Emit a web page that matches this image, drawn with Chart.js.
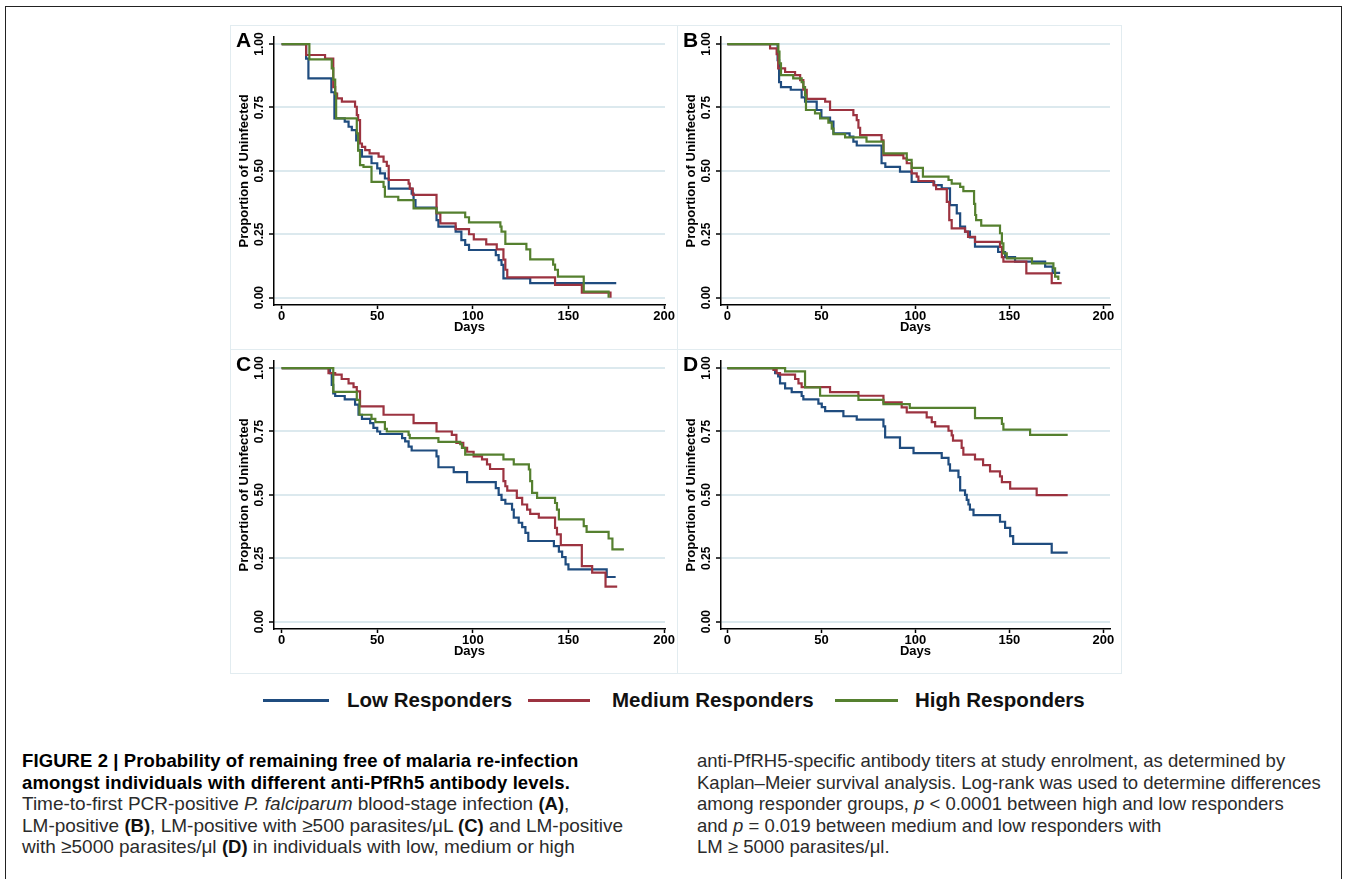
<!DOCTYPE html>
<html>
<head>
<meta charset="utf-8">
<script src="https://cdn.jsdelivr.net/npm/chart.js@4.4.1/dist/chart.umd.min.js"></script>
<style>
  html, body { margin: 0; padding: 0; background: #fff; }
  body { width: 1348px; height: 879px; position: relative; overflow: hidden; font-family: "Liberation Sans", Arial, sans-serif; }
  .frame { position: absolute; left: 5px; top: 6px; width: 1337px; height: 880px; border: 1.5px solid #222; box-sizing: border-box; }
  .panel { position: absolute; box-sizing: border-box; border: 1px solid #e2ecf0; }
  .panel canvas { position: absolute; left: -1px; top: -1px; }
  .legend-line { position: absolute; height: 3px; top: 699px; }
  .legend-text { position: absolute; top: 687px; line-height: 26px; font-size: 20.5px; font-weight: bold; color: #111; white-space: nowrap; }
  .caption { position: absolute; top: 750px; line-height: 21.5px; white-space: nowrap; color: #2b2b2b; font-size: 19px; }
  .caption.right { font-size: 18.5px; }
  .caption .t { font-weight: bold; font-size: 18.5px; color: #000; letter-spacing: 0.1px; }
  .caption b { font-size: 18.5px; color: #111; }
</style>
</head>
<body>
<div class="frame"></div>

<div class="panel" style="left:230px; top:25px; width:448px; height:325px;"><canvas id="chartA" width="448" height="325"></canvas></div>
<div class="panel" style="left:677px; top:25px; width:445px; height:325px;"><canvas id="chartB" width="445" height="325"></canvas></div>
<div class="panel" style="left:230px; top:349px; width:448px; height:325px;"><canvas id="chartC" width="448" height="325"></canvas></div>
<div class="panel" style="left:677px; top:349px; width:445px; height:325px;"><canvas id="chartD" width="445" height="325"></canvas></div>

<div class="legend-line" style="left:263px; width:66px; background:#1f4c7f;"></div>
<div class="legend-text" style="left:347px;">Low Responders</div>
<div class="legend-line" style="left:528px; width:62px; background:#9c3340;"></div>
<div class="legend-text" style="left:612px;">Medium Responders</div>
<div class="legend-line" style="left:835px; width:63px; background:#55802f;"></div>
<div class="legend-text" style="left:915px;">High Responders</div>

<div class="caption" style="left:22px;">
  <span class="t">FIGURE 2 | Probability of remaining free of malaria re-infection</span><br>
  <span class="t">amongst individuals with different anti-PfRh5 antibody levels.</span><br>
  <span>Time-to-first PCR-positive <i>P. falciparum</i> blood-stage infection <b>(A)</b>,</span><br>
  <span>LM-positive <b>(B)</b>, LM-positive with ≥500 parasites/μL <b>(C)</b> and LM-positive</span><br>
  <span>with ≥5000 parasites/μl <b>(D)</b> in individuals with low, medium or high</span>
</div>
<div class="caption right" style="left:697px;">
  <span>anti-PfRH5-specific antibody titers at study enrolment, as determined by</span><br>
  <span>Kaplan–Meier survival analysis. Log-rank was used to determine differences</span><br>
  <span>among responder groups, <i>p</i> &lt; 0.0001 between high and low responders</span><br>
  <span>and <i>p</i> = 0.019 between medium and low responders with</span><br>
  <span>LM ≥ 5000 parasites/μl.</span>
</div>

<script>
// Kaplan-Meier steps: [day, proportion uninfected]
const aLow = [[0,1],[12.8,0.943],[14,0.865],[26,0.81],[27.6,0.707],[33,0.694],[35,0.674],[36.7,0.661],[39,0.62],[40,0.582],[42,0.556],[47,0.53],[50,0.51],[51.5,0.49],[54,0.47],[56,0.43],[68,0.41],[69,0.385],[70,0.355],[81,0.306],[82,0.28],[91,0.26],[94,0.227],[96,0.208],[98,0.188],[112,0.168],[113.5,0.148],[115,0.129],[116,0.076],[130,0.057],[175,0.057]];
const aMedium = [[0,1],[12.8,0.957],[22.7,0.943],[27,0.83],[28,0.805],[29,0.786],[31.5,0.773],[38.4,0.753],[39.3,0.72],[40,0.7],[41,0.608],[42,0.595],[43.7,0.582],[46,0.569],[50.7,0.556],[53.3,0.536],[55,0.52],[56,0.464],[66.4,0.45],[67,0.43],[68.6,0.405],[81,0.332],[83,0.293],[91,0.27],[98,0.25],[100.5,0.23],[107,0.21],[112.5,0.19],[116,0.15],[117,0.11],[118,0.08],[143,0.05],[157,0.02],[172,0]];
const aHigh = [[0,1],[14.5,0.94],[26.2,0.904],[27,0.86],[28,0.805],[28.5,0.707],[39.3,0.648],[40,0.58],[41,0.523],[42.8,0.516],[47,0.457],[53.3,0.437],[54,0.398],[61,0.385],[69,0.352],[81,0.335],[96,0.317],[98,0.297],[114.4,0.28],[115,0.26],[117,0.212],[128,0.19],[130,0.151],[142,0.13],[143,0.11],[144.5,0.083],[158,0.024],[171,0]];

const bLow = [[0,1],[26.7,0.937],[27.5,0.85],[28.5,0.83],[33.7,0.82],[39.5,0.79],[41.3,0.773],[47.5,0.74],[50,0.71],[54.6,0.694],[56.4,0.648],[65,0.635],[67,0.615],[68.8,0.6],[82,0.53],[84,0.516],[91.8,0.497],[98,0.457],[110,0.444],[114,0.431],[118.4,0.365],[122,0.332],[123.8,0.28],[126.4,0.26],[129,0.238],[131.7,0.201],[144,0.18],[147.7,0.16],[153,0.142],[169,0.122],[173,0.098],[177,0.098]];
const bMedium = [[0,1],[22.7,0.983],[26.2,0.96],[27,0.904],[30.7,0.89],[36,0.878],[38.7,0.858],[40.4,0.82],[42.2,0.784],[52,0.773],[54.6,0.74],[67,0.72],[68.8,0.7],[69.7,0.67],[70.6,0.641],[82,0.62],[83,0.562],[93.6,0.549],[95.4,0.53],[98,0.49],[100.7,0.477],[101.6,0.46],[109.6,0.444],[111,0.428],[116.7,0.378],[118,0.306],[119.3,0.273],[126.4,0.26],[128,0.24],[131.7,0.22],[145,0.2],[146,0.16],[146.8,0.142],[159,0.096],[172.5,0.057],[177.8,0.057]];
const bHigh = [[0,1],[27.1,0.97],[27.7,0.924],[28.5,0.878],[35,0.865],[39.5,0.85],[40.4,0.83],[41.3,0.8],[41.8,0.74],[46.6,0.727],[49.3,0.707],[53.7,0.69],[55.5,0.667],[56.4,0.645],[62.6,0.632],[74,0.615],[83,0.569],[95.4,0.543],[98,0.512],[104,0.477],[117.6,0.464],[119.3,0.45],[123.8,0.437],[125.5,0.42],[131.2,0.37],[131.8,0.326],[132.3,0.306],[135,0.284],[145,0.254],[146,0.214],[146.8,0.175],[148.6,0.155],[162,0.135],[173.4,0.116],[174.3,0.083],[176,0.07]];

const cLow = [[0,1],[25.3,0.98],[26.2,0.934],[27,0.9],[28,0.89],[33,0.877],[38.4,0.856],[40.2,0.816],[42,0.8],[46.3,0.783],[48,0.764],[50,0.75],[51.5,0.74],[63,0.724],[64.6,0.711],[66.4,0.69],[68,0.675],[81,0.652],[82,0.609],[90,0.59],[97,0.55],[112,0.527],[113.5,0.5],[115,0.48],[117,0.465],[120.5,0.442],[121.4,0.41],[124,0.39],[125.8,0.373],[127.5,0.35],[129,0.318],[142.4,0.298],[145,0.276],[146.7,0.255],[148.5,0.226],[150,0.206],[170,0.176],[174.7,0.176]];
const cMedium = [[0,1],[24.5,0.98],[28,0.974],[31.4,0.957],[35,0.94],[37.6,0.925],[39.3,0.908],[41,0.849],[53.3,0.816],[69,0.783],[81,0.75],[89,0.737],[91.4,0.705],[95,0.685],[97,0.67],[100.4,0.652],[104.8,0.64],[107.4,0.62],[109,0.602],[116,0.554],[117,0.534],[118,0.517],[123,0.488],[125.8,0.462],[128.4,0.442],[130,0.425],[134.5,0.41],[143,0.37],[144,0.344],[146,0.302],[157,0.219],[162.4,0.193],[169.4,0.138],[175.5,0.138]];
const cHigh = [[0,1],[27,0.906],[39.3,0.875],[40.7,0.816],[47,0.8],[49,0.787],[54,0.76],[55,0.75],[66.4,0.737],[67,0.724],[82,0.709],[93.4,0.7],[94.3,0.685],[96,0.659],[116,0.64],[121.4,0.62],[129.3,0.6],[130,0.554],[131,0.508],[133.6,0.488],[143,0.468],[144,0.442],[145,0.403],[158,0.377],[159.5,0.354],[171,0.328],[173,0.285],[179,0.285]];

const dLow = [[0,1],[25.4,0.98],[27,0.967],[28,0.94],[30.7,0.92],[34.2,0.905],[39.5,0.89],[40.4,0.877],[48.4,0.86],[50.2,0.846],[52,0.83],[61.7,0.81],[68.8,0.797],[83,0.77],[83.9,0.727],[91.8,0.685],[99,0.665],[114,0.646],[117.6,0.62],[118.4,0.596],[122.9,0.57],[123.8,0.518],[126.4,0.5],[127.3,0.48],[128.2,0.462],[129,0.442],[130.9,0.42],[145,0.394],[147.7,0.37],[150.4,0.337],[152,0.307],[172.5,0.272],[181,0.272]];
const dMedium = [[0,1],[24.5,0.993],[26.2,0.98],[28,0.974],[36,0.957],[37.8,0.94],[39.5,0.925],[54.6,0.905],[69.7,0.891],[83,0.865],[92.7,0.845],[95.4,0.825],[106,0.806],[108.7,0.787],[110.5,0.77],[117.6,0.753],[119.3,0.735],[120,0.714],[124.6,0.685],[125.5,0.659],[131.7,0.64],[136,0.617],[139.7,0.593],[145,0.573],[146,0.55],[150.4,0.525],[164.5,0.499],[181,0.499]];
const dHigh = [[0,1],[30.7,0.987],[41.3,0.924],[49.3,0.891],[69.7,0.875],[83,0.858],[97,0.843],[131.7,0.803],[146,0.78],[146.8,0.757],[161,0.737],[181,0.737]];

const xTicks = [0, 50, 100, 150, 200];
const yTicks = [0, 0.25, 0.5, 0.75, 1];
const groupNames = ['Low Responders', 'Medium Responders', 'High Responders'];

const colors = ['#1f4c7f', '#9c3340', '#55802f'];
const gridColor = '#dce9ee';
const fontFamily = '"Liberation Sans", Arial, sans-serif';

function series(name, points, color, order) {
  return {
    label: name,
    data: points.map(([x, y]) => ({ x, y })),
    borderColor: color,
    borderWidth: 2.2,
    pointRadius: 0,
    stepped: true,
    fill: false,
    order
  };
}

// rotated y tick labels, y title and panel letter, placed from the y scale
function axisText(letter) {
  return {
    id: 'axisText',
    afterDraw(chart) {
      const { ctx, scales: { y } } = chart;
      ctx.save();
      ctx.fillStyle = '#000';
      ctx.textAlign = 'center';
      ctx.textBaseline = 'middle';
      ctx.font = `bold 12px ${fontFamily}`;
      yTicks.forEach((v) => {
        ctx.save();
        ctx.translate(30, y.getPixelForValue(v));
        ctx.rotate(-Math.PI / 2);
        ctx.fillText(v.toFixed(2), 0, 0);
        ctx.restore();
      });
      const mid = (y.getPixelForValue(0) + y.getPixelForValue(1)) / 2;
      ctx.font = `bold 13px ${fontFamily}`;
      ctx.translate(14.5, mid);
      ctx.rotate(-Math.PI / 2);
      ctx.fillText('Proportion of Uninfected', 0, 0);
      ctx.restore();

      ctx.save();
      ctx.fillStyle = '#000';
      ctx.font = `bold 21px ${fontFamily}`;
      ctx.textAlign = 'left';
      ctx.textBaseline = 'middle';
      ctx.fillText(letter, 6, 16);
      ctx.restore();
    }
  };
}

function buildChart(id, letter, low, medium, high, xMin, xMax, rightPad) {
  return new Chart(document.getElementById(id), {
    type: 'line',
    data: {
      datasets: [
        series(groupNames[0], low, colors[0], 2),
        series(groupNames[1], medium, colors[1], 1),
        series(groupNames[2], high, colors[2], 0)
      ]
    },
    options: {
      responsive: false,
      animation: false,
      devicePixelRatio: 1,
      layout: { padding: { top: 12, right: rightPad, bottom: 0, left: 0 } },
      plugins: { legend: { display: false }, tooltip: { enabled: false } },
      scales: {
        x: {
          type: 'linear',
          min: xMin,
          max: xMax,
          afterBuildTicks: (scale) => { scale.ticks = xTicks.map((v) => ({ value: v })); },
          afterFit: (scale) => { scale.height = 45; },
          grid: { drawOnChartArea: false, tickColor: '#000', tickLength: 4, tickWidth: 1.5 },
          border: { color: '#000', width: 1.5 },
          ticks: { color: '#000', padding: 0, maxRotation: 0, autoSkip: false, font: { family: fontFamily, size: 13, weight: 'bold' } },
          title: { display: true, text: 'Days', color: '#000', padding: { top: 0, bottom: 15 }, font: { family: fontFamily, size: 13, weight: 'bold' } }
        },
        y: {
          type: 'linear',
          min: -0.029,
          max: 1.028,
          afterBuildTicks: (scale) => { scale.ticks = yTicks.map((v) => ({ value: v })); },
          afterFit: (scale) => { scale.width = 44; },
          grid: { color: gridColor, lineWidth: 2, tickColor: '#000', tickLength: 5, tickWidth: 1.5 },
          border: { color: '#000', width: 1.5 },
          ticks: { display: false }
        }
      }
    },
    plugins: [axisText(letter)]
  });
}

buildChart('chartA', 'A', aLow, aMedium, aHigh, -4, 200.5, 13);
buildChart('chartB', 'B', bLow, bMedium, bHigh, -3.4, 203.5, 12);
buildChart('chartC', 'C', cLow, cMedium, cHigh, -4, 200.5, 13);
buildChart('chartD', 'D', dLow, dMedium, dHigh, -3.4, 203.5, 12);
</script>
</body>
</html>
